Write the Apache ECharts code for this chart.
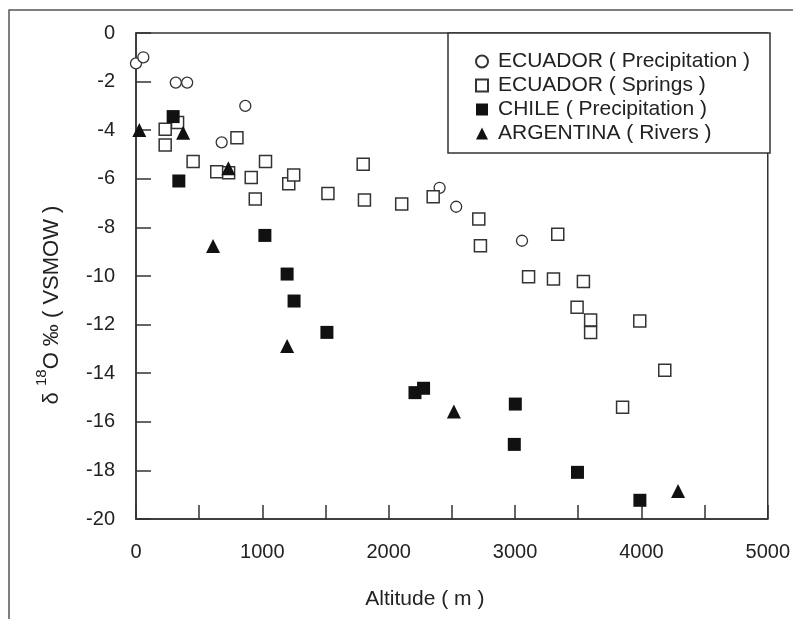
<!DOCTYPE html>
<html lang="en">
<head>
    <meta charset="UTF-8">
    <script type="text/javascript" src="https://cdn.jsdelivr.net/npm/echarts@6/dist/echarts.min.js"></script>
    <style>
        html, body { margin: 0; padding: 0; background: #fff; }
        #chart { width: 793px; height: 619px; }
    </style>
</head>
<body>
    <div id="chart"></div>
</body>

<script>
    // legend names
    var seriesNames = ["ECUADOR ( Precipitation )", "ECUADOR ( Springs )", "CHILE ( Precipitation )", "ARGENTINA ( Rivers )"];

    // [altitude m, d18O permil]
    var ecuadorPrecip = [[0,-1.25],[58,-1.0],[315,-2.04],[405,-2.04],[865,-3.0],[678,-4.5],
        [2403,-6.37],[2534,-7.15],[3055,-8.55]];
    var ecuadorSprings = [[231,-3.96],[329,-3.68],[231,-4.61],[799,-4.31],[452,-5.29],[639,-5.71],
        [733,-5.75],[912,-5.95],[1025,-5.29],[944,-6.83],[1209,-6.2],[1248,-5.84],[1519,-6.6],
        [1798,-5.4],[1808,-6.87],[2103,-7.04],[2352,-6.74],[2713,-7.65],[2726,-8.75],[3338,-8.28],
        [3107,-10.03],[3304,-10.12],[3541,-10.23],[3491,-11.29],[3598,-11.81],[3598,-12.33],
        [3987,-11.85],[4185,-13.88],[3851,-15.4]];
    var chilePrecip = [[294,-3.44],[339,-6.09],[1020,-8.33],[1196,-9.92],[1251,-11.03],[1511,-12.32],
        [2208,-14.8],[2276,-14.62],[3002,-15.27],[2994,-16.93],[3494,-18.08],[3988,-19.23]];
    var argentinaRivers = [[26,-3.99],[373,-4.1],[731,-5.57],[610,-8.77],[1196,-12.88],
        [2516,-15.58],[4290,-18.85]];

    var FONT = "Liberation Sans";
    var INK = "#222";

    var chart = echarts.init(document.getElementById("chart"));

    var option = {
        animation: false,
        backgroundColor: "#fff",
        textStyle: { fontFamily: FONT, color: INK },
        grid: {
            left: 136, top: 33, right: 23, bottom: 100,
            show: true, borderColor: "#333", borderWidth: 1.5, backgroundColor: "transparent"
        },
        legend: {
            orient: "vertical",
            left: 470, top: 46,
            itemWidth: 12, itemHeight: 12, itemGap: 3,
            textStyle: { fontFamily: FONT, fontSize: 21, color: INK, lineHeight: 20, padding: [0, 0, 0, 5] },
            data: seriesNames
        },
        xAxis: {
            type: "value",
            min: 0, max: 5000, interval: 500,
            name: "Altitude ( m )",
            nameLocation: "middle",
            nameGap: 70,
            nameTextStyle: { fontFamily: FONT, fontSize: 21, color: INK, padding: [0, 54, 0, 0] },
            axisLine: { show: true, onZero: false, lineStyle: { color: "#333", width: 1.5 } },
            axisTick: { show: true, inside: true, length: 14, lineStyle: { color: "#333", width: 1.5 } },
            axisLabel: {
                margin: 23, fontSize: 20, color: INK, fontFamily: FONT,
                formatter: function (v) { return v % 1000 === 0 ? String(v) : ""; }
            },
            splitLine: { show: false }
        },
        yAxis: {
            type: "value",
            min: -20, max: 0, interval: 2,
            name: "{a|δ }{s|18}{a|O ‰ ( VSMOW )}",
            nameLocation: "middle",
            nameGap: 66,
            nameRotate: 90,
            nameTextStyle: {
                padding: [0, 58, 0, 0],
                rich: {
                    a: { fontFamily: FONT, fontSize: 22, color: INK, lineHeight: 36 },
                    s: { fontFamily: FONT, fontSize: 15, color: INK, lineHeight: 14, verticalAlign: "top" }
                }
            },
            axisLine: { show: true, onZero: false, lineStyle: { color: "#333", width: 1.5 } },
            axisTick: { show: true, inside: true, length: 15, lineStyle: { color: "#333", width: 1.5 } },
            axisLabel: { margin: 21, fontSize: 20, color: INK, fontFamily: FONT },
            splitLine: { show: false }
        },
        graphic: [
            // outer frame of the figure (top and left edges)
            { type: "polyline", silent: true,
              shape: { points: [[9, 619], [9, 10], [793, 10]] },
              style: { stroke: "#555", lineWidth: 1.5, fill: null } },
            // legend box
            { type: "rect", silent: true, z: 0,
              shape: { x: 448, y: 33, width: 322, height: 120 },
              style: { stroke: "#333", lineWidth: 1.5, fill: "#fff" } }
        ],
        series: [
            {
                name: seriesNames[0], type: "scatter", data: ecuadorPrecip,
                symbol: "circle", symbolSize: 11,
                itemStyle: { color: "#fff", borderColor: "#333", borderWidth: 1.3, opacity: 1 }
            },
            {
                name: seriesNames[1], type: "scatter", data: ecuadorSprings,
                symbol: "rect", symbolSize: 12,
                itemStyle: { color: "#fff", borderColor: "#333", borderWidth: 1.5, opacity: 1 }
            },
            {
                name: seriesNames[2], type: "scatter", data: chilePrecip,
                symbol: "rect", symbolSize: 13,
                itemStyle: { color: "#111", opacity: 1 }
            },
            {
                name: seriesNames[3], type: "scatter", data: argentinaRivers,
                symbol: "triangle", symbolSize: 14,
                itemStyle: { color: "#111", opacity: 1 }
            }
        ]
    };

    chart.setOption(option);
</script>
</html>
